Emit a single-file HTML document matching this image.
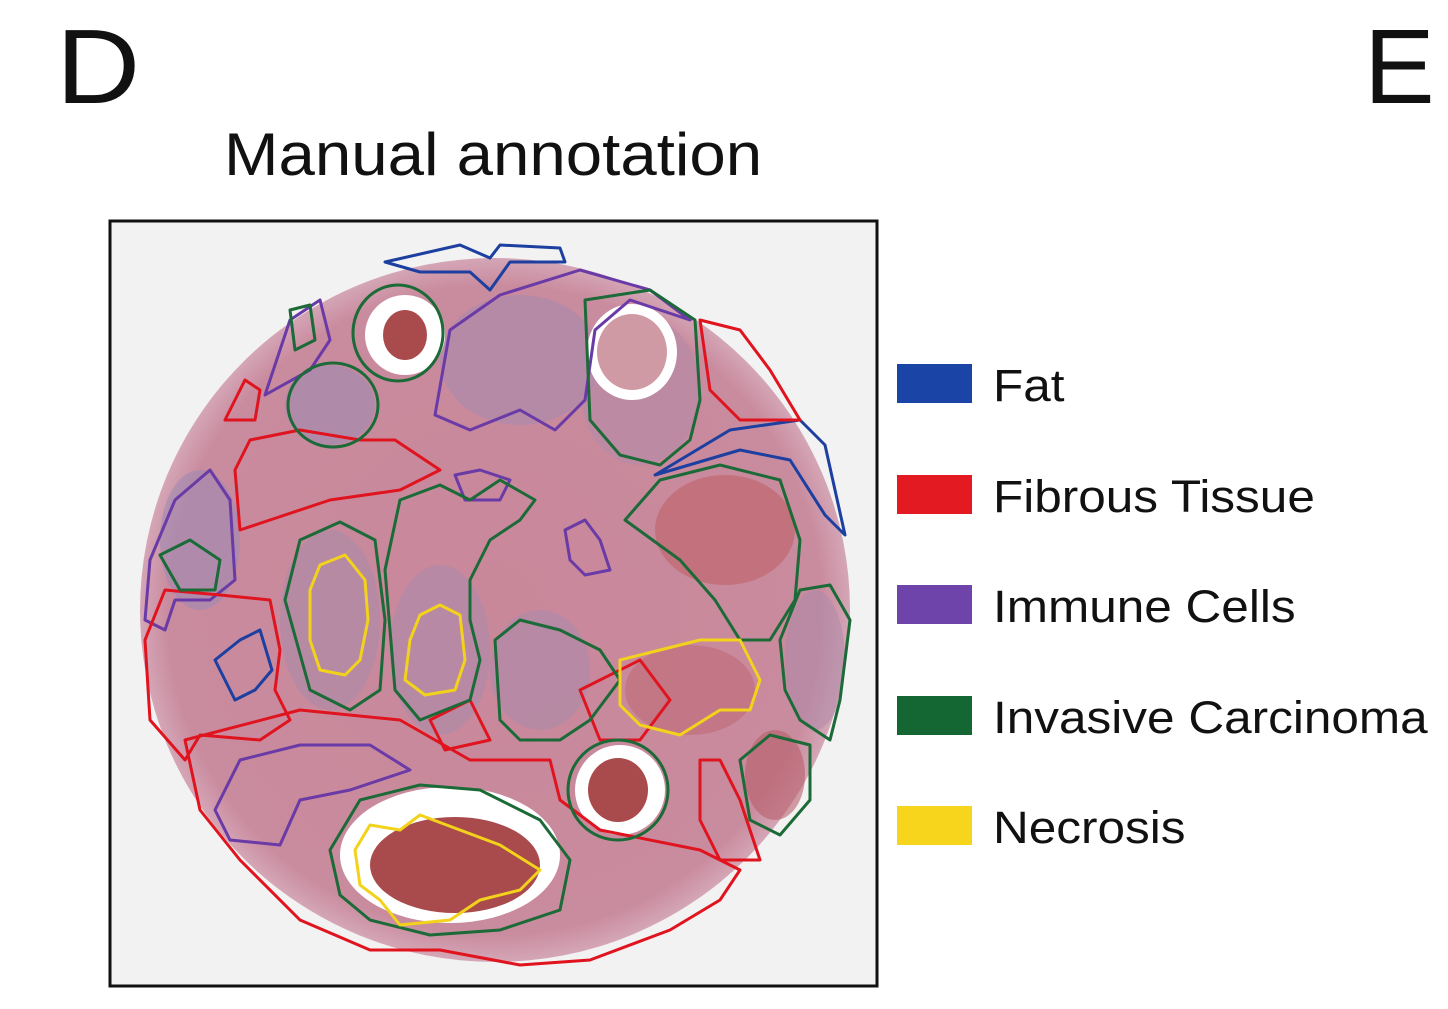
<!DOCTYPE html>
<html><head><meta charset="utf-8"><style>
html,body{margin:0;padding:0;background:#fff;}
body{width:1448px;height:1009px;position:relative;overflow:hidden;font-family:"Liberation Sans",Arial,sans-serif;color:#111;}
.t{position:absolute;white-space:nowrap;transform-origin:0 0;}
.lg{position:absolute;left:993px;font-size:45px;line-height:44px;transform:scaleX(1.1);transform-origin:0 0;white-space:nowrap;}
</style></head><body>
<div class="t" style="left:56px;top:14px;font-size:106px;line-height:106px;transform:scaleX(1.1);">D</div>
<div class="t" style="left:1364px;top:14px;font-size:106px;line-height:106px;transform:scaleX(1.0);">E</div>
<div class="t" style="left:224px;top:124px;font-size:60px;line-height:62px;transform:scaleX(1.09);">Manual annotation</div>

<svg style="position:absolute;left:0;top:0" width="1448" height="1009">
<rect x="110" y="221" width="767" height="765" fill="#f3f2f2" stroke="#111" stroke-width="3"/>
<defs><radialGradient id="g" cx="50%" cy="50%" r="50%">
<stop offset="0%" stop-color="#c9879a"/><stop offset="92%" stop-color="#c98b9e"/><stop offset="100%" stop-color="#d4a6b6"/></radialGradient></defs>
<ellipse cx="495" cy="610" rx="355" ry="352" fill="url(#g)"/>
<ellipse cx="330" cy="405" rx="45" ry="40" fill="#a58aae" opacity=".7"/>
<ellipse cx="520" cy="360" rx="80" ry="65" fill="#a98aae" opacity=".6"/>
<ellipse cx="640" cy="390" rx="60" ry="75" fill="#b48ba6" opacity=".6"/>
<ellipse cx="330" cy="620" rx="50" ry="90" fill="#ac8aaa" opacity=".6"/>
<ellipse cx="440" cy="650" rx="50" ry="85" fill="#ac8aaa" opacity=".6"/>
<ellipse cx="540" cy="670" rx="50" ry="60" fill="#ac8aaa" opacity=".6"/>
<ellipse cx="200" cy="540" rx="40" ry="70" fill="#9e8ab4" opacity=".6"/>
<ellipse cx="815" cy="660" rx="30" ry="70" fill="#ac8aaa" opacity=".5"/>
<ellipse cx="405" cy="335" rx="40" ry="40" fill="#fff"/>
<ellipse cx="405" cy="335" rx="22" ry="25" fill="#a94a4c"/>
<ellipse cx="632" cy="352" rx="45" ry="48" fill="#fff"/>
<ellipse cx="632" cy="352" rx="35" ry="38" fill="#d09aa5"/>
<ellipse cx="620" cy="790" rx="45" ry="45" fill="#fff"/>
<ellipse cx="618" cy="790" rx="30" ry="32" fill="#a94a4c"/>
<ellipse cx="450" cy="855" rx="110" ry="68" fill="#fff"/>
<ellipse cx="455" cy="865" rx="85" ry="48" fill="#a94a4c"/>
<ellipse cx="725" cy="530" rx="70" ry="55" fill="#c0676f" opacity=".7"/>
<ellipse cx="690" cy="690" rx="65" ry="45" fill="#c06a76" opacity=".6"/>
<ellipse cx="775" cy="775" rx="30" ry="45" fill="#b85f6b" opacity=".6"/>
<g fill="none" stroke-width="3" stroke-linejoin="round">
<path d="M385 262 L460 245 L490 258 L500 245 L560 248 L565 262 L510 262 L490 290 L470 272 L420 272 Z" stroke="#1c3fa0"/>
<path d="M655 475 L730 430 L800 420 L825 445 L845 535 L825 515 L790 460 L740 450 Z" stroke="#1c3fa0"/>
<path d="M215 660 L240 640 L260 630 L272 670 L255 690 L235 700 Z" stroke="#1c3fa0"/>
<path d="M435 415 L450 330 L500 295 L580 270 L650 290 L690 320 L630 300 L595 330 L585 400 L555 430 L520 410 L470 430 Z" stroke="#6a3aa6"/>
<path d="M150 560 L175 500 L210 470 L230 500 L235 580 L210 600 L175 600 L165 630 L145 620 Z" stroke="#6a3aa6"/>
<path d="M215 810 L240 760 L300 745 L370 745 L410 770 L350 790 L300 800 L280 845 L230 840 Z" stroke="#6a3aa6"/>
<path d="M565 530 L585 520 L600 540 L610 570 L585 575 L570 560 Z" stroke="#6a3aa6"/>
<path d="M455 475 L480 470 L510 480 L500 500 L465 500 Z" stroke="#6a3aa6"/>
<path d="M265 395 L290 320 L320 300 L330 340 L310 370 Z" stroke="#6a3aa6"/>
<path d="M700 320 L740 330 L770 370 L800 420 L740 420 L710 390 Z" stroke="#e0141e"/>
<path d="M225 420 L245 380 L260 390 L255 420 Z" stroke="#e0141e"/>
<path d="M235 470 L250 440 L300 430 L360 440 L395 440 L440 470 L400 490 L330 500 L270 520 L240 530 Z" stroke="#e0141e"/>
<path d="M145 640 L165 590 L220 595 L270 600 L280 650 L275 690 L290 720 L260 740 L200 735 L185 760 L150 720 Z" stroke="#e0141e"/>
<path d="M185 740 L300 710 L400 720 L470 760 L550 760 L560 800 L600 830 L700 850 L740 870 L720 900 L670 930 L590 960 L520 965 L440 950 L370 950 L300 920 L240 860 L200 810 Z" stroke="#e0141e"/>
<path d="M700 760 L720 760 L740 800 L760 860 L720 860 L700 820 Z" stroke="#e0141e"/>
<path d="M430 720 L470 700 L490 740 L445 750 Z" stroke="#e0141e"/>
<path d="M580 690 L640 660 L670 700 L640 740 L600 740 Z" stroke="#e0141e"/>
<ellipse cx="398" cy="333" rx="45" ry="48" stroke="#1b6a37"/>
<path d="M585 300 L650 290 L695 320 L700 400 L690 440 L660 465 L620 455 L590 420 Z" stroke="#1b6a37"/>
<ellipse cx="333" cy="405" rx="45" ry="42" stroke="#1b6a37"/>
<path d="M290 310 L310 305 L315 340 L295 350 Z" stroke="#1b6a37"/>
<path d="M285 600 L300 540 L340 522 L375 540 L385 620 L380 690 L350 710 L310 690 Z" stroke="#1b6a37"/>
<path d="M385 570 L400 500 L440 485 L470 500 L500 480 L535 500 L520 520 L490 540 L470 580 L470 620 L480 660 L470 700 L420 720 L395 690 Z" stroke="#1b6a37"/>
<path d="M495 640 L520 620 L560 630 L600 650 L620 680 L590 720 L560 740 L520 740 L500 720 Z" stroke="#1b6a37"/>
<path d="M625 520 L660 480 L720 465 L780 480 L800 540 L795 600 L770 640 L740 640 L715 600 L680 560 Z" stroke="#1b6a37"/>
<path d="M780 640 L800 590 L830 585 L850 620 L840 700 L830 740 L800 720 L785 690 Z" stroke="#1b6a37"/>
<path d="M740 760 L770 735 L810 745 L810 800 L780 835 L750 820 Z" stroke="#1b6a37"/>
<ellipse cx="618" cy="790" rx="50" ry="50" stroke="#1b6a37"/>
<path d="M330 850 L360 800 L420 785 L480 790 L540 820 L570 860 L560 910 L500 930 L430 935 L370 920 L340 895 Z" stroke="#1b6a37"/>
<path d="M160 555 L190 540 L220 560 L215 590 L180 590 Z" stroke="#1b6a37"/>
<path d="M310 590 L320 565 L345 555 L365 580 L368 620 L360 660 L345 675 L320 670 L310 640 Z" stroke="#f2d21a"/>
<path d="M410 640 L420 615 L440 605 L460 615 L465 660 L455 690 L425 695 L405 680 Z" stroke="#f2d21a"/>
<path d="M620 660 L660 650 L700 640 L740 640 L760 680 L750 710 L720 710 L680 735 L640 725 L620 705 Z" stroke="#f2d21a"/>
<path d="M355 850 L370 825 L400 830 L420 815 L460 830 L500 845 L540 870 L520 890 L480 900 L450 920 L400 925 L380 900 L360 885 Z" stroke="#f2d21a"/>
</g>
<rect x="897" y="364" width="75" height="39" fill="#1a45a6"/>
<rect x="897" y="475" width="75" height="39" fill="#e31a22"/>
<rect x="897" y="585" width="75" height="39" fill="#6f44aa"/>
<rect x="897" y="696" width="75" height="39" fill="#146633"/>
<rect x="897" y="806" width="75" height="39" fill="#f7d51c"/>
</svg>
<div class="lg" style="top:364px;">Fat</div>
<div class="lg" style="top:475px;">Fibrous Tissue</div>
<div class="lg" style="top:585px;">Immune Cells</div>
<div class="lg" style="top:696px;">Invasive Carcinoma</div>
<div class="lg" style="top:806px;">Necrosis</div>
</body></html>
